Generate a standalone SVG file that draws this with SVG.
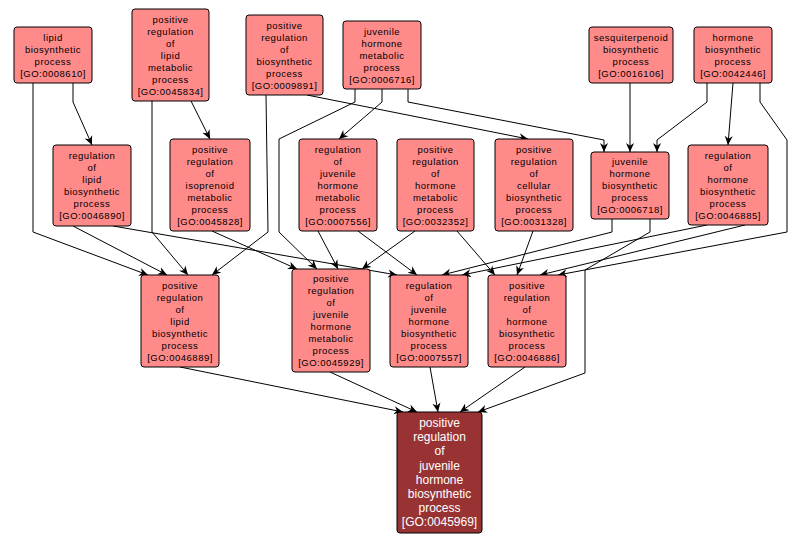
<svg xmlns="http://www.w3.org/2000/svg" width="802" height="544" viewBox="0 0 802 544">
<defs>
<marker id="arr" viewBox="0 0 10 10" refX="10" refY="5" markerWidth="9" markerHeight="9" markerUnits="userSpaceOnUse" orient="auto">
<path d="M0,0.5 L10,5 L0,9.5 L3,5 z" fill="#000"/>
</marker>
<style>
.n rect{fill:#ff8a8a;stroke:#000;stroke-width:1}
.n text{font-family:"Liberation Sans",Arial,sans-serif;font-size:9.5px;letter-spacing:0.5px;fill:#000;text-anchor:middle}
.f rect{fill:#993333;stroke:#000;stroke-width:1}
.f text{font-family:"Liberation Sans",Arial,sans-serif;font-size:12px;fill:#fff;text-anchor:middle}
#edges path{fill:none;stroke:#000;stroke-width:1;marker-end:url(#arr)}
</style>
</defs>
<rect width="802" height="544" fill="#fff"/>
<g id="edges">
<path d="M73,83 L73,102 L92,145"/>
<path d="M33,83 L33,232 L148,275"/>
<path d="M191,101 L210,139"/>
<path d="M152,101 L152,232 L188,275"/>
<path d="M266,95 L268,232 L212,275"/>
<path d="M307,95 L528,139"/>
<path d="M382,89 L382,102 L339,139"/>
<path d="M355,89 L355,102 L279,139 L279,232 L317,269"/>
<path d="M408,89 L408,102 L604,140 L604,152"/>
<path d="M630,83 L630,152"/>
<path d="M707,83 L707,102 L657,140 L657,152"/>
<path d="M733,83 L728,145"/>
<path d="M760,83 L760,102 L787,140 L787,232 L558,275"/>
<path d="M73,226 L167,275"/>
<path d="M113,226 L397,275"/>
<path d="M212,231 L297,269"/>
<path d="M318,231 L338,269"/>
<path d="M358,231 L417,275"/>
<path d="M415,231 L362,269"/>
<path d="M457,231 L495,275"/>
<path d="M533,231 L517,275"/>
<path d="M612,219 L612,232 L442,275"/>
<path d="M650,219 L650,232 L585,270 L585,373 L478,412"/>
<path d="M707,225 L462,275"/>
<path d="M745,225 L540,275"/>
<path d="M180,367 L403,412"/>
<path d="M330,372 L417,412"/>
<path d="M430,367 L438,412"/>
<path d="M525,367 L460,412"/>
</g>
<g id="n1" class="n"><rect x="14" y="27" width="78" height="56" rx="3"/>
<text x="53" y="40.5">lipid</text><text x="53" y="52.5">biosynthetic</text><text x="53" y="64.5">process</text><text x="53" y="76.5">[GO:0008610]</text></g>
<g id="n2" class="n"><rect x="132" y="9" width="77" height="92" rx="3"/>
<text x="170.5" y="22.5">positive</text><text x="170.5" y="34.5">regulation</text><text x="170.5" y="46.5">of</text><text x="170.5" y="58.5">lipid</text><text x="170.5" y="70.5">metabolic</text><text x="170.5" y="82.5">process</text><text x="170.5" y="94.5">[GO:0045834]</text></g>
<g id="n3" class="n"><rect x="246" y="15" width="77" height="80" rx="3"/>
<text x="284.5" y="28.5">positive</text><text x="284.5" y="40.5">regulation</text><text x="284.5" y="52.5">of</text><text x="284.5" y="64.5">biosynthetic</text><text x="284.5" y="76.5">process</text><text x="284.5" y="88.5">[GO:0009891]</text></g>
<g id="n4" class="n"><rect x="343" y="21" width="78" height="68" rx="3"/>
<text x="382" y="34.5">juvenile</text><text x="382" y="46.5">hormone</text><text x="382" y="58.5">metabolic</text><text x="382" y="70.5">process</text><text x="382" y="82.5">[GO:0006716]</text></g>
<g id="n5" class="n"><rect x="589" y="27" width="84" height="56" rx="3"/>
<text x="631" y="40.5">sesquiterpenoid</text><text x="631" y="52.5">biosynthetic</text><text x="631" y="64.5">process</text><text x="631" y="76.5">[GO:0016106]</text></g>
<g id="n6" class="n"><rect x="694" y="27" width="78" height="56" rx="3"/>
<text x="733" y="40.5">hormone</text><text x="733" y="52.5">biosynthetic</text><text x="733" y="64.5">process</text><text x="733" y="76.5">[GO:0042446]</text></g>
<g id="n7" class="n"><rect x="53" y="145" width="78" height="81" rx="3"/>
<text x="92" y="159">regulation</text><text x="92" y="171">of</text><text x="92" y="183">lipid</text><text x="92" y="195">biosynthetic</text><text x="92" y="207">process</text><text x="92" y="219">[GO:0046890]</text></g>
<g id="n8" class="n"><rect x="170" y="139" width="80" height="92" rx="3"/>
<text x="210" y="152.5">positive</text><text x="210" y="164.5">regulation</text><text x="210" y="176.5">of</text><text x="210" y="188.5">isoprenoid</text><text x="210" y="200.5">metabolic</text><text x="210" y="212.5">process</text><text x="210" y="224.5">[GO:0045828]</text></g>
<g id="n9" class="n"><rect x="299" y="139" width="78" height="92" rx="3"/>
<text x="338" y="152.5">regulation</text><text x="338" y="164.5">of</text><text x="338" y="176.5">juvenile</text><text x="338" y="188.5">hormone</text><text x="338" y="200.5">metabolic</text><text x="338" y="212.5">process</text><text x="338" y="224.5">[GO:0007556]</text></g>
<g id="n10" class="n"><rect x="397" y="139" width="77" height="92" rx="3"/>
<text x="435.5" y="152.5">positive</text><text x="435.5" y="164.5">regulation</text><text x="435.5" y="176.5">of</text><text x="435.5" y="188.5">hormone</text><text x="435.5" y="200.5">metabolic</text><text x="435.5" y="212.5">process</text><text x="435.5" y="224.5">[GO:0032352]</text></g>
<g id="n11" class="n"><rect x="495" y="139" width="78" height="92" rx="3"/>
<text x="534" y="152.5">positive</text><text x="534" y="164.5">regulation</text><text x="534" y="176.5">of</text><text x="534" y="188.5">cellular</text><text x="534" y="200.5">biosynthetic</text><text x="534" y="212.5">process</text><text x="534" y="224.5">[GO:0031328]</text></g>
<g id="n12" class="n"><rect x="591" y="152" width="78" height="67" rx="3"/>
<text x="630" y="165">juvenile</text><text x="630" y="177">hormone</text><text x="630" y="189">biosynthetic</text><text x="630" y="201">process</text><text x="630" y="213">[GO:0006718]</text></g>
<g id="n13" class="n"><rect x="688" y="145" width="80" height="80" rx="3"/>
<text x="728" y="158.5">regulation</text><text x="728" y="170.5">of</text><text x="728" y="182.5">hormone</text><text x="728" y="194.5">biosynthetic</text><text x="728" y="206.5">process</text><text x="728" y="218.5">[GO:0046885]</text></g>
<g id="n14" class="n"><rect x="141" y="275" width="78" height="92" rx="3"/>
<text x="180" y="288.5">positive</text><text x="180" y="300.5">regulation</text><text x="180" y="312.5">of</text><text x="180" y="324.5">lipid</text><text x="180" y="336.5">biosynthetic</text><text x="180" y="348.5">process</text><text x="180" y="360.5">[GO:0046889]</text></g>
<g id="n15" class="n"><rect x="292" y="269" width="78" height="103" rx="3"/>
<text x="331" y="282">positive</text><text x="331" y="294">regulation</text><text x="331" y="306">of</text><text x="331" y="318">juvenile</text><text x="331" y="330">hormone</text><text x="331" y="342">metabolic</text><text x="331" y="354">process</text><text x="331" y="366">[GO:0045929]</text></g>
<g id="n16" class="n"><rect x="390" y="275" width="78" height="92" rx="3"/>
<text x="429" y="288.5">regulation</text><text x="429" y="300.5">of</text><text x="429" y="312.5">juvenile</text><text x="429" y="324.5">hormone</text><text x="429" y="336.5">biosynthetic</text><text x="429" y="348.5">process</text><text x="429" y="360.5">[GO:0007557]</text></g>
<g id="n17" class="n"><rect x="488" y="275" width="78" height="92" rx="3"/>
<text x="527" y="288.5">positive</text><text x="527" y="300.5">regulation</text><text x="527" y="312.5">of</text><text x="527" y="324.5">hormone</text><text x="527" y="336.5">biosynthetic</text><text x="527" y="348.5">process</text><text x="527" y="360.5">[GO:0046886]</text></g>
<g id="n18" class="f"><rect x="397" y="412" width="85" height="121" rx="3"/>
<text x="439.5" y="427">positive</text><text x="439.5" y="441.2">regulation</text><text x="439.5" y="455.4">of</text><text x="439.5" y="469.6">juvenile</text><text x="439.5" y="483.8">hormone</text><text x="439.5" y="498">biosynthetic</text><text x="439.5" y="512.2">process</text><text x="439.5" y="526.4">[GO:0045969]</text></g>
</svg>
